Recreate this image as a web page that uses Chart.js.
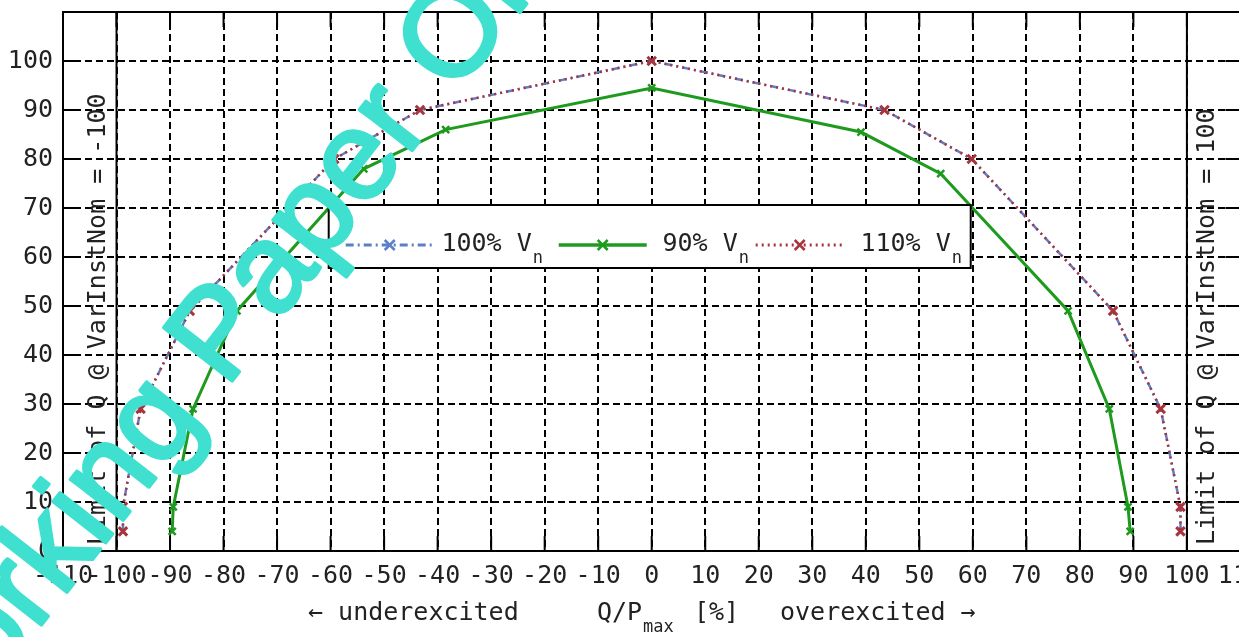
<!DOCTYPE html>
<html lang="en">

<head>
  <meta charset="UTF-8">
  <title>Q/P capability</title>
  <script src="https://cdn.jsdelivr.net/npm/chart.js"></script>
</head>
<style>
  html, body {
    margin: 0;
    padding: 0;
    overflow: hidden;
    background: #fff;
  }
  #wrap {
    position: relative;
    width: 1239px;
    height: 637px;
    overflow: hidden;
  }
  #graficoPQ {
    position: absolute;
    left: 0;
    top: -13px;
  }
</style>

<body>
  <div id="wrap"><canvas id="graficoPQ" width="1273" height="650"></canvas></div>
</body>
<script>
  // active power P [%] of each measured point (y) and reactive power Q [%] (x)
  const pNom = [4, 9, 29, 49, 80, 90, 100, 90, 80, 49, 29, 9, 4];
  const q100 = [-98.8, -98.8, -95.5, -86.3, -59.3, -43.3, 0, 43.5, 59.8, 86.2, 95.1, 98.8, 98.8];
  const q110 = [-98.8, -98.8, -95.5, -86.3, -59.3, -43.3, 0, 43.5, 59.8, 86.2, 95.1, 98.8, 98.8];
  const p90 = [4, 9, 29, 49, 78, 86, 94.5, 85.5, 77, 49, 29, 9, 4];
  const q90 = [-89.6, -89.4, -85.7, -77.5, -53.8, -38.5, 0, 39.1, 54, 77.8, 85.5, 89, 89.4];
  const xTicks = { min: -110, max: 110, step: 10 };
  const yTicks = { min: 0, max: 110, step: 10 };
  const limits = [-100, 100];

  const mono = '"DejaVu Sans Mono", monospace';
  const colBlue = '#5b80c8';
  const colGreen = '#1e9a1e';
  const colRed = '#a8343e';

  const puntos = (xs, ys) => xs.map((x, i) => ({ x: x, y: ys[i] }));

  // gnuplot-like frame: border, inward ticks, limit lines, legend, title
  const marco = {
    id: 'marco',
    beforeDatasetsDraw(chart) {
      const { ctx, chartArea: a, scales: { x, y } } = chart;
      ctx.save();
      ctx.strokeStyle = '#000';
      ctx.lineWidth = 2;
      limits.forEach((v) => {
        const px = x.getPixelForValue(v);
        ctx.beginPath();
        ctx.moveTo(px, a.top);
        ctx.lineTo(px, a.bottom);
        ctx.stroke();
        ctx.save();
        ctx.translate(v < 0 ? px - 18 : px + 21, a.bottom - 6);
        ctx.rotate(-Math.PI / 2);
        ctx.fillStyle = '#222';
        ctx.font = '25px ' + mono;
        ctx.textBaseline = 'middle';
        ctx.fillText('Limit of Q @ VarInstNom = ' + v, 0, 0);
        ctx.restore();
      });
      ctx.restore();
    },
    afterDatasetsDraw(chart) {
      const { ctx, chartArea: a, scales: { x, y } } = chart;
      ctx.save();
      ctx.strokeStyle = '#000';
      ctx.lineWidth = 2;
      const len = 15;
      for (let v = xTicks.min + xTicks.step; v < xTicks.max; v += xTicks.step) {
        const px = x.getPixelForValue(v);
        ctx.beginPath();
        ctx.moveTo(px, a.bottom); ctx.lineTo(px, a.bottom - len);
        ctx.moveTo(px, a.top); ctx.lineTo(px, a.top + len);
        ctx.stroke();
      }
      for (let v = yTicks.min + yTicks.step; v < yTicks.max; v += yTicks.step) {
        const py = y.getPixelForValue(v);
        ctx.beginPath();
        ctx.moveTo(a.left, py); ctx.lineTo(a.left + len, py);
        ctx.moveTo(a.right, py); ctx.lineTo(a.right - len, py);
        ctx.stroke();
      }
      ctx.strokeRect(a.left, a.top, a.right - a.left, a.bottom - a.top);

      // legend box
      const w = 642, h = 63;
      const lx = (a.left + a.right) / 2 - w / 2 - 2;
      const ly = a.top + 193;
      ctx.fillStyle = '#fff';
      ctx.fillRect(lx, ly, w, h);
      ctx.strokeRect(lx, ly, w, h);
      const cy = ly + 40;
      const muestra = [17, 230, 427];
      const finTexto = [203, 409, 622];
      const entradas = chart.data.datasets.slice().sort((d1, d2) => d1.leyenda - d2.leyenda);
      entradas.forEach((ds, i) => {
        const sx = lx + muestra[i];
        ctx.save();
        ctx.strokeStyle = ds.borderColor;
        ctx.lineWidth = ds.borderWidth + 0.5;
        ctx.setLineDash(ds.borderDash || []);
        ctx.beginPath();
        ctx.moveTo(sx, cy); ctx.lineTo(sx + 88, cy);
        ctx.stroke();
        ctx.setLineDash([]);
        ctx.lineWidth = 2.5;
        const m = 5, mx = sx + 44;
        ctx.beginPath();
        ctx.moveTo(mx - m, cy - m); ctx.lineTo(mx + m, cy + m);
        ctx.moveTo(mx - m, cy + m); ctx.lineTo(mx + m, cy - m);
        ctx.stroke();
        ctx.restore();
        ctx.fillStyle = '#222';
        ctx.font = '25px ' + mono;
        ctx.textBaseline = 'middle';
        ctx.textAlign = 'right';
        const tx = lx + finTexto[i];
        ctx.fillText(ds.label + ' V', tx, cy - 1);
        ctx.font = '17px ' + mono;
        ctx.textAlign = 'left';
        ctx.fillText('n', tx + 1, cy + 14);
      });

      // x title
      const ty = a.bottom + 62;
      ctx.fillStyle = '#222';
      ctx.textBaseline = 'middle';
      ctx.font = '25px ' + mono;
      ctx.textAlign = 'left';
      ctx.fillText('\u2190 underexcited', 308, ty);
      ctx.fillText('Q/P', 597, ty);
      ctx.fillText('[%]', 694, ty);
      ctx.fillText('overexcited \u2192', 780, ty);
      ctx.font = '17px ' + mono;
      ctx.fillText('max', 643, ty + 15);
      ctx.restore();
    },
    afterDraw(chart) {
      const { ctx } = chart;
      ctx.save();
      ctx.translate(-79, 792);
      ctx.rotate(-52 * Math.PI / 180);
      ctx.fillStyle = '#40e0d0';
      ctx.strokeStyle = '#40e0d0';
      ctx.lineWidth = 3.5;
      ctx.lineJoin = 'round';
      ctx.font = '126px "Liberation Sans", sans-serif';
      ctx.textBaseline = 'alphabetic';
      ctx.fillText('Working Paper Only', 0, 0);
      ctx.strokeText('Working Paper Only', 0, 0);
      ctx.restore();
    }
  };

  const ctx = document.getElementById('graficoPQ').getContext('2d');
  const chart = new Chart(ctx, {
    type: 'line',
    data: {
      datasets: [{
        label: '110%',
        leyenda: 2,
        order: 0,
        data: puntos(q110, pNom),
        borderColor: colRed,
        borderWidth: 2.5,
        borderDash: [2, 4],
        pointStyle: 'crossRot',
        pointRadius: 6,
        pointBorderWidth: 3,
        pointBorderColor: colRed
      }, {
        label: '90%',
        leyenda: 1,
        order: 1,
        data: puntos(q90, p90),
        borderColor: colGreen,
        borderWidth: 3,
        pointStyle: 'crossRot',
        pointRadius: 5,
        pointBorderWidth: 2.5,
        pointBorderColor: colGreen
      }, {
        label: '100%',
        leyenda: 0,
        order: 2,
        data: puntos(q100, pNom),
        borderColor: colBlue,
        borderWidth: 2.5,
        borderDash: [8, 4, 2, 4],
        pointStyle: 'crossRot',
        pointRadius: 5,
        pointBorderWidth: 2,
        pointBorderColor: colBlue
      }]
    },
    options: {
      responsive: false,
      animation: false,
      layout: { padding: { top: 11, right: 22, left: 0, bottom: 0 } },
      plugins: { legend: { display: false }, tooltip: { enabled: false } },
      elements: { line: { tension: 0 } },
      scales: {
        x: {
          type: 'linear',
          min: xTicks.min,
          max: xTicks.max,
          afterFit: (s) => { s.height = 86; },
          ticks: {
            stepSize: xTicks.step,
            autoSkip: false,
            maxRotation: 0,
            padding: 10,
            color: '#222',
            font: { family: mono, size: 25 }
          },
          grid: { color: '#000', lineWidth: 2, drawTicks: false },
          border: { display: false, dash: [7, 4] }
        },
        y: {
          min: yTicks.min,
          max: yTicks.max,
          afterFit: (s) => { s.width = 63; },
          ticks: {
            stepSize: yTicks.step,
            padding: 10,
            color: '#222',
            font: { family: mono, size: 25 },
            callback: (v) => (v === yTicks.max ? '' : v)
          },
          grid: { color: '#000', lineWidth: 2, drawTicks: false },
          border: { display: false, dash: [7, 4] }
        }
      }
    },
    plugins: [marco]
  });
</script>

</html>
